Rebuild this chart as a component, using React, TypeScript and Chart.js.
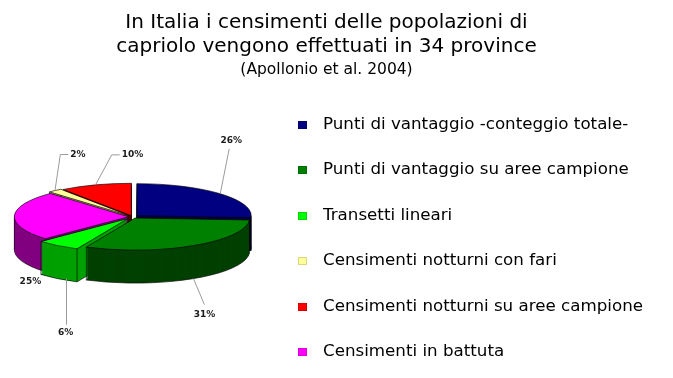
import { useEffect, useRef } from 'react';
import { Chart, registerables } from 'chart.js';

Chart.register(...registerables);

// ---- data (legend order) ----
const categories = [
  'Punti di vantaggio -conteggio totale-',
  'Punti di vantaggio su aree campione',
  'Transetti lineari',
  'Censimenti notturni con fari',
  'Censimenti notturni su aree campione',
  'Censimenti in battuta',
];
const shares = [26, 31, 6, 2, 10, 25];
const topColors = ['#000080', '#008000', '#00ff00', '#ffff99', '#ff0000', '#ff00ff'];
const sideColors = ['#000040', '#004000', '#00a000', '#a3a366', '#800000', '#800080'];
const explode = [24, 20, 32, 16, 16, 16];
// clockwise order of the slices from 12 o'clock (indices into the arrays above)
const pieOrder = [0, 1, 2, 5, 3, 4];

const titleLines = [
  'In Italia i censimenti delle popolazioni di',
  'capriolo vengono effettuati in 34 province',
];
const subtitleText = '(Apollonio et al. 2004)';

// percent-label placement relative to the slice edge (legend order)
const labelPlacement: [number, number, string][] = [
  [11, -53, 'up'],
  [11, 36, 'down'],
  [8, 54, 'vertical'],
  [23, -36, 'elbow'],
  [37, -30, 'elbow'],
  [16, 66, 'none'],
];

const FONT = "'DejaVu Sans', Verdana, sans-serif";
const LEGEND_FONT = 16.7;
const LEGEND_BOX_W = 43;

function sliceGeom(arc: any) {
  const off = (arc.options.offset || 0) / 4;
  const m = (arc.startAngle + arc.endAngle) / 2;
  const circ = arc.endAngle - arc.startAngle;
  const R = arc.outerRadius + off * (1 - Math.sin(Math.min(Math.PI, circ)));
  return { off, m, R, ox: arc.x + Math.cos(m) * off, oy: arc.y + Math.sin(m) * off };
}

function applyView(ctx: CanvasRenderingContext2D, arc: any, opts: any, d: number) {
  ctx.translate(arc.x, arc.y - opts.depth / 2 + d);
  ctx.scale(1, opts.tilt);
  ctx.translate(-arc.x, -arc.y);
}

function tracePath(ctx: CanvasRenderingContext2D, arc: any, opts: any, d: number) {
  const g = sliceGeom(arc);
  ctx.save();
  applyView(ctx, arc, opts, d);
  ctx.beginPath();
  ctx.moveTo(g.ox, g.oy);
  ctx.arc(g.ox, g.oy, g.R, arc.startAngle, arc.endAngle);
  ctx.closePath();
  ctx.restore();
}

function project(arc: any, opts: any, ang: number, r: number, d: number) {
  const g = sliceGeom(arc);
  return {
    x: g.ox + Math.cos(ang) * r,
    y: arc.y - opts.depth / 2 + d + opts.tilt * (g.oy - arc.y + Math.sin(ang) * r),
  };
}

const pie3d = {
  id: 'pie3d',
  beforeDatasetsDraw(chart: any, _a: any, opts: any) {
    const arcs = chart.getDatasetMeta(0).data as any[];
    if (!arcs.length) return;
    const ctx: CanvasRenderingContext2D = chart.ctx;
    const order = arcs
      .map((_, i) => i)
      .sort((a, b) => Math.sin(sliceGeom(arcs[a]).m) - Math.sin(sliceGeom(arcs[b]).m));
    for (const i of order) {
      const arc = arcs[i];
      const g = sliceGeom(arc);
      ctx.save();
      ctx.fillStyle = opts.sides[i];
      ctx.strokeStyle = opts.edge;
      ctx.lineWidth = opts.edgeWidth;
      tracePath(ctx, arc, opts, opts.depth);
      ctx.fill();
      ctx.stroke();
      for (let d = opts.depth - 1; d >= 1; d--) {
        tracePath(ctx, arc, opts, d);
        ctx.fill();
      }
      const pts: [number, number][] = [
        [arc.startAngle, g.R],
        [arc.endAngle, g.R],
        [0, 0],
      ];
      for (const a of [0, Math.PI, 2 * Math.PI]) {
        if (a > arc.startAngle && a < arc.endAngle) pts.push([a, g.R]);
      }
      ctx.beginPath();
      for (const [a, r] of pts) {
        const p0 = project(arc, opts, a, r, 0);
        const p1 = project(arc, opts, a, r, opts.depth);
        ctx.moveTo(p0.x, p0.y);
        ctx.lineTo(p1.x, p1.y);
      }
      ctx.stroke();
      ctx.restore();
    }
    ctx.save();
    applyView(ctx, arcs[0], opts, 0);
  },
  afterDatasetsDraw(chart: any, _a: any, opts: any) {
    const arcs = chart.getDatasetMeta(0).data as any[];
    if (!arcs.length) return;
    const ctx: CanvasRenderingContext2D = chart.ctx;
    ctx.restore();
    ctx.save();
    ctx.strokeStyle = opts.edge;
    ctx.lineWidth = opts.edgeWidth;
    arcs.forEach((arc) => {
      tracePath(ctx, arc, opts, 0);
      ctx.stroke();
    });
    ctx.restore();

    // percent labels with leader lines
    ctx.save();
    ctx.font = `bold 9px ${FONT}`;
    ctx.textAlign = 'center';
    ctx.textBaseline = 'middle';
    arcs.forEach((arc, i) => {
      const li = pieOrder[i];
      const g = sliceGeom(arc);
      const [dx, dy, leader] = labelPlacement[li];
      const s = Math.sin(g.m);
      const a = project(arc, opts, g.m, g.R, s > 0.3 ? opts.depth : 0);
      const lx = a.x + dx;
      const ly = a.y + dy;
      const text = `${shares[li]}%`;
      const w = ctx.measureText(text).width;
      ctx.strokeStyle = opts.leader;
      ctx.lineWidth = 1;
      ctx.beginPath();
      if (leader === 'up') {
        ctx.moveTo(a.x, a.y);
        ctx.lineTo(lx - 2, ly + 8);
      } else if (leader === 'down') {
        ctx.moveTo(a.x, a.y);
        ctx.lineTo(lx, ly - 10);
      } else if (leader === 'vertical') {
        ctx.moveTo(Math.round(lx) + 0.5, a.y);
        ctx.lineTo(Math.round(lx) + 0.5, ly - 8);
      } else if (leader === 'elbow') {
        const left = lx - w / 2;
        ctx.moveTo(a.x, a.y);
        ctx.lineTo(left - 10, ly);
        ctx.lineTo(left - 2, ly);
      }
      ctx.stroke();
      ctx.fillStyle = opts.labelColor;
      ctx.fillText(text, lx, ly);
    });
    ctx.restore();
  },
};

const swatches = {
  id: 'swatches',
  afterDraw(chart: any) {
    const legend = chart.legend;
    if (!legend || !legend.legendItems) return;
    const ctx: CanvasRenderingContext2D = chart.ctx;
    ctx.save();
    legend.legendItems.forEach((item: any, i: number) => {
      const hb = legend.legendHitBoxes[i];
      const textX = hb.left + LEGEND_BOX_W + LEGEND_FONT / 2;
      const cy = hb.top + hb.height / 2;
      ctx.fillStyle = item.swatch;
      ctx.fillRect(Math.round(textX - 25), Math.round(cy - 4), 9, 8);
      ctx.strokeStyle = 'rgba(0,0,0,0.15)';
      ctx.lineWidth = 1;
      ctx.strokeRect(Math.round(textX - 25) + 0.5, Math.round(cy - 4) + 0.5, 8, 7);
    });
    ctx.restore();
  },
};

export default function App() {
  const ref = useRef<HTMLCanvasElement | null>(null);

  useEffect(() => {
    if (!ref.current) return;
    const chart = new Chart(ref.current, {
      type: 'pie',
      data: {
        labels: pieOrder.map((i) => categories[i]),
        datasets: [
          {
            data: pieOrder.map((i) => shares[i]),
            backgroundColor: pieOrder.map((i) => topColors[i]),
            offset: pieOrder.map((i) => explode[i]),
            borderWidth: 0,
            radius: '98%',
            clip: false,
          } as any,
        ],
      },
      options: {
        responsive: false,
        animation: false,
        events: [],
        layout: { padding: { right: 20 } },
        plugins: {
          title: {
            display: true,
            text: titleLines,
            color: '#000',
            font: { family: FONT, size: 20, weight: 'normal', lineHeight: 1.2 },
            padding: { top: 11, bottom: 0 },
          },
          subtitle: {
            display: true,
            text: subtitleText,
            color: '#000',
            font: { family: FONT, size: 15.5, weight: 'normal', lineHeight: 1.2 },
            padding: { top: 2, bottom: 9 },
          },
          legend: {
            position: 'right',
            align: 'end',
            maxWidth: 600,
            labels: {
              boxWidth: LEGEND_BOX_W,
              boxHeight: 39,
              padding: 6.5,
              color: '#000',
              font: { family: FONT, size: LEGEND_FONT },
              generateLabels: () =>
                categories.map((t, i) => ({
                  text: t,
                  fillStyle: 'rgba(0,0,0,0)',
                  strokeStyle: 'rgba(0,0,0,0)',
                  lineWidth: 0,
                  hidden: false,
                  index: i,
                  swatch: topColors[i],
                })) as any,
            },
          },
          tooltip: { enabled: false },
          pie3d: {
            tilt: 0.28,
            depth: 33,
            sides: pieOrder.map((i) => sideColors[i]),
            edge: 'rgba(0,0,0,0.8)',
            edgeWidth: 0.8,
            leader: '#9a9a9a',
            labelColor: '#1a1a1a',
          },
        } as any,
      },
      plugins: [pie3d, swatches],
    });
    return () => chart.destroy();
  }, []);

  return (
    <div style={{ position: 'fixed', left: 0, top: 0, width: 673, height: 378, background: '#fff' }}>
      <canvas ref={ref} width={673} height={378} style={{ display: 'block' }} />
    </div>
  );
}
